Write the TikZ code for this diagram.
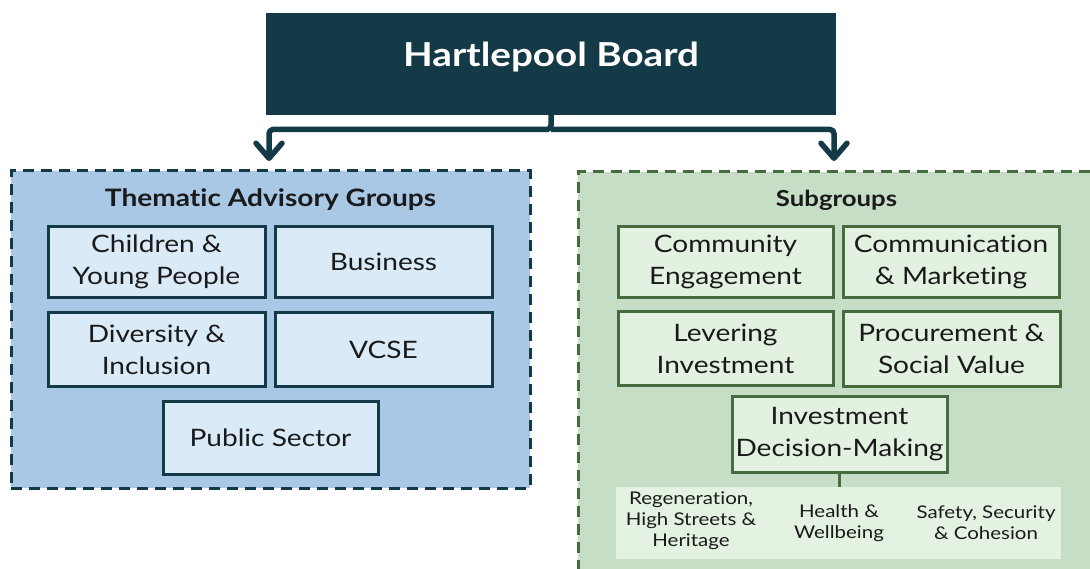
\documentclass[tikz,border=0pt]{standalone}
\usepackage{fontspec}
\setmainfont{Lato}[FakeStretch=1.17, Ligatures=NoCommon]
\usetikzlibrary{arrows.meta}
\definecolor{boardcol}{HTML}{133A46}
\definecolor{bluefill}{HTML}{A8C8E6}
\definecolor{blueinner}{HTML}{DAEBF7}
\definecolor{greenfill}{HTML}{C6DDC6}
\definecolor{greeninner}{HTML}{E3F2E0}
\definecolor{greenpanel}{HTML}{E4F3E1}
\definecolor{greenline}{HTML}{466B3E}
\definecolor{txt}{HTML}{1A1A1A}
\begin{document}
\begin{tikzpicture}[x=1pt,y=-1pt,
  boardbox/.style={fill=boardcol, draw=none, minimum width=570pt, minimum height=102pt, inner sep=0pt},
  conn/.style={draw=boardcol, line width=5.5pt, line join=round, rounded corners=4pt},
  tipstyle/.style={-{Straight Barb[length=15pt,width=26pt,round]}},
  groupA/.style={fill=bluefill, draw=boardcol, line width=3pt, dash pattern=on 11pt off 7pt, inner sep=0pt},
  groupB/.style={fill=greenfill, draw=greenline, line width=3pt, dash pattern=on 11pt off 7pt, inner sep=0pt},
  bluebox/.style={fill=blueinner, draw=boardcol, line width=3pt, inner sep=0pt, align=center, text=txt,
     font=\fontsize{24}{32}\selectfont},
  greenbox/.style={fill=greeninner, draw=greenline, line width=3pt, inner sep=0pt, align=center, text=txt,
     font=\fontsize{24}{32}\selectfont},
  grouptitle/.style={anchor=base, text=txt, font=\bfseries\fontsize{24}{28}\selectfont, inner sep=0pt},
  smalltext/.style={align=center, text=txt, font=\fontsize{17.5}{21}\selectfont, inner sep=0pt}
]
\useasboundingbox (0,0) rectangle (1090,569);
\clip (0,0) rectangle (1090,569);

% board
\node[boardbox] (board) at (551,64) {};
\node[text=white, font=\bfseries\fontsize{33}{36}\selectfont, inner sep=0pt] (boardlabel) at (551,57) {Hartlepool Board};

% groups
\node[groupA, minimum width=519pt, minimum height=317pt] (tag) at (270.5,329.5) {};
\node[groupB, minimum width=540pt, minimum height=440pt] (sub) at (848,392) {};

\node[grouptitle] (tagtitle) at (270.5,207) {Thematic Advisory Groups};
\node[grouptitle, font=\bfseries\fontsize{22}{26}\selectfont] (subtitle) at (836.5,207) {Subgroups};

% connectors
\coordinate (split) at (551,129.5);
\coordinate (tagin) at (269,161);
\coordinate (subin) at (834,161);
\draw[conn, tipstyle] (board.south) -- (split) -| (tagin);
\draw[conn, tipstyle] (split) -| (subin);

% thematic boxes
\node[bluebox, minimum width=217pt, minimum height=71pt] (children) at (156.5,262) {Children \&\\Young People};
\node[bluebox, minimum width=217pt, minimum height=71pt] (business) at (383.5,262) {Business};
\node[bluebox, minimum width=217pt, minimum height=73pt] (diversity) at (156.5,349.5) {Diversity \&\\Inclusion};
\node[bluebox, minimum width=217pt, minimum height=73pt] (vcse) at (383.5,349.5) {VCSE};
\node[bluebox, minimum width=215pt, minimum height=73pt] (public) at (270.5,438) {Public Sector};

% subgroup boxes
\node[greenbox, minimum width=215pt, minimum height=71pt] (community) at (725.5,262) {Community\\Engagement};
\node[greenbox, minimum width=216pt, minimum height=71pt] (communication) at (951,262) {Communication\\\& Marketing};
\node[greenbox, minimum width=215pt, minimum height=73pt] (levering) at (725.5,348.5) {Levering\\Investment};
\node[greenbox, minimum width=217pt, minimum height=74pt] (procurement) at (951.5,349) {Procurement \&\\Social Value};
\node[greenbox, minimum width=215pt, minimum height=76pt] (idm) at (839.5,434) {Investment\\Decision-Making};

% bottom panel
\node[fill=greenpanel, draw=none, minimum width=445pt, minimum height=72pt, inner sep=0pt] (panel) at (838.5,523) {};
\draw[draw=greenline, line width=3pt] (idm.south) -- (idm.south |- panel.north);
\node[smalltext] (regen) at (691,521) {Regeneration,\\High Streets \&\\Heritage};
\node[smalltext] (health) at (839,523) {Health \&\\Wellbeing};
\node[smalltext] (safety) at (986,523) {Safety, Security\\\& Cohesion};
\end{tikzpicture}
\end{document}
